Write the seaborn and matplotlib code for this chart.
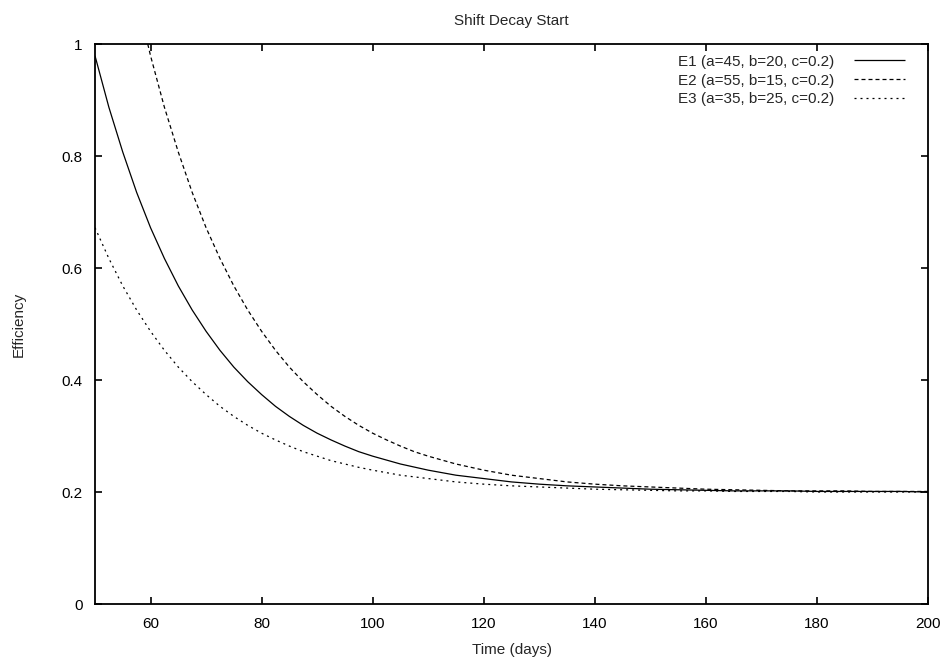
import matplotlib
matplotlib.use("Agg")
import matplotlib.pyplot as plt
import seaborn as sns
import pandas as pd

sns.set_theme(style="white")
plt.rcParams['font.family'] = ['Liberation Sans', 'DejaVu Sans']

labels = ["E1 (a=45, b=20, c=0.2)", "E2 (a=55, b=15, c=0.2)", "E3 (a=35, b=25, c=0.2)"]

e1_t = [50, 52.5, 55, 57.5, 60, 62.5, 65, 67.5, 70, 72.5, 75, 77.5, 80, 82.5, 85, 87.5, 90, 92.5, 95, 97.5,
        100, 105, 110, 115, 120, 125, 130, 135, 140, 145, 150, 155, 160, 165, 170, 175, 180, 185, 190, 195, 200]
e1_v = [0.979, 0.887, 0.807, 0.735, 0.672, 0.617, 0.568, 0.525, 0.487, 0.453, 0.423, 0.397, 0.374, 0.353,
        0.335, 0.319, 0.305, 0.293, 0.282, 0.272, 0.264, 0.250, 0.239, 0.230, 0.224, 0.218, 0.214, 0.211,
        0.209, 0.207, 0.205, 0.204, 0.203, 0.202, 0.202, 0.202, 0.201, 0.201, 0.201, 0.201, 0.200]

e2_t = [59.5, 60, 62.5, 65, 67.5, 70, 72.5, 75, 77.5, 80, 82.5, 85, 87.5, 90, 92.5, 95, 97.5, 100, 102.5,
        105, 107.5, 110, 115, 120, 125, 130, 135, 140, 145, 150, 155, 160, 165, 170, 175, 180, 185, 190, 195, 200]
e2_v = [1.0, 0.979, 0.887, 0.807, 0.735, 0.672, 0.617, 0.568, 0.525, 0.487, 0.453, 0.423, 0.397, 0.374,
        0.353, 0.335, 0.319, 0.305, 0.293, 0.282, 0.272, 0.264, 0.250, 0.239, 0.230, 0.224, 0.218, 0.214,
        0.211, 0.209, 0.207, 0.205, 0.204, 0.203, 0.202, 0.202, 0.202, 0.201, 0.201, 0.201]

e3_t = [50, 52.5, 55, 57.5, 60, 62.5, 65, 67.5, 70, 72.5, 75, 77.5, 80, 82.5, 85, 87.5, 90, 92.5, 95, 97.5,
        100, 105, 110, 115, 120, 125, 130, 135, 140, 145, 150, 155, 160, 165, 170, 175, 180, 185, 190, 195, 200]
e3_v = [0.672, 0.617, 0.568, 0.525, 0.487, 0.453, 0.423, 0.397, 0.374, 0.353, 0.335, 0.319, 0.305, 0.293,
        0.282, 0.272, 0.264, 0.256, 0.250, 0.244, 0.239, 0.230, 0.224, 0.218, 0.214, 0.211, 0.209, 0.207,
        0.205, 0.204, 0.203, 0.202, 0.202, 0.201, 0.201, 0.201, 0.200, 0.200, 0.200, 0.200, 0.200]

x_ticks = [60, 80, 100, 120, 140, 160, 180, 200]
y_ticks = [0, 0.2, 0.4, 0.6, 0.8, 1]
y_ticklabels = ["0", "0.2", "0.4", "0.6", "0.8", "1"]

FS = 11

fig = plt.figure(figsize=(9.52, 6.68), dpi=100)
ax = fig.add_axes([95/952, 1-604/668, (928-95)/952, (604-44)/668])

styles = [(0, ()), (0, (3.2, 2.4)), (0, (1.6, 3.2))]
for lab, t, v, ls in zip(labels, [e1_t, e2_t, e3_t], [e1_v, e2_v, e3_v], styles):
    df = pd.DataFrame({"t": t, "v": v})
    sns.lineplot(data=df, x="t", y="v", ax=ax, color="black", linewidth=0.9,
                 linestyle=ls, label=lab, legend=False)

ax.set_xlim(50, 200)
ax.set_ylim(0, 1)
ax.set_xticks(x_ticks)
ax.set_yticks(y_ticks)
ax.set_yticklabels(y_ticklabels)
ax.tick_params(direction="in", length=5, width=1.2, top=True, right=True,
               bottom=True, left=True, labelsize=FS, colors="black", pad=9)
for s in ax.spines.values():
    s.set_visible(True)
    s.set_color("black")
    s.set_linewidth(1.3)
ax.grid(False)
ax.set_xlabel("Time (days)", fontsize=FS, labelpad=9)
ax.set_ylabel("Efficiency", fontsize=FS, labelpad=26)
ax.set_title("Shift Decay Start", fontsize=FS, pad=14)

leg = ax.legend(loc="upper right", frameon=False, markerfirst=False, fontsize=FS,
                handlelength=3.3, handletextpad=1.3, labelspacing=0.32,
                borderaxespad=0.3, bbox_to_anchor=(0.985, 1.0))

fig.savefig("out.png", dpi=100, facecolor="white")
